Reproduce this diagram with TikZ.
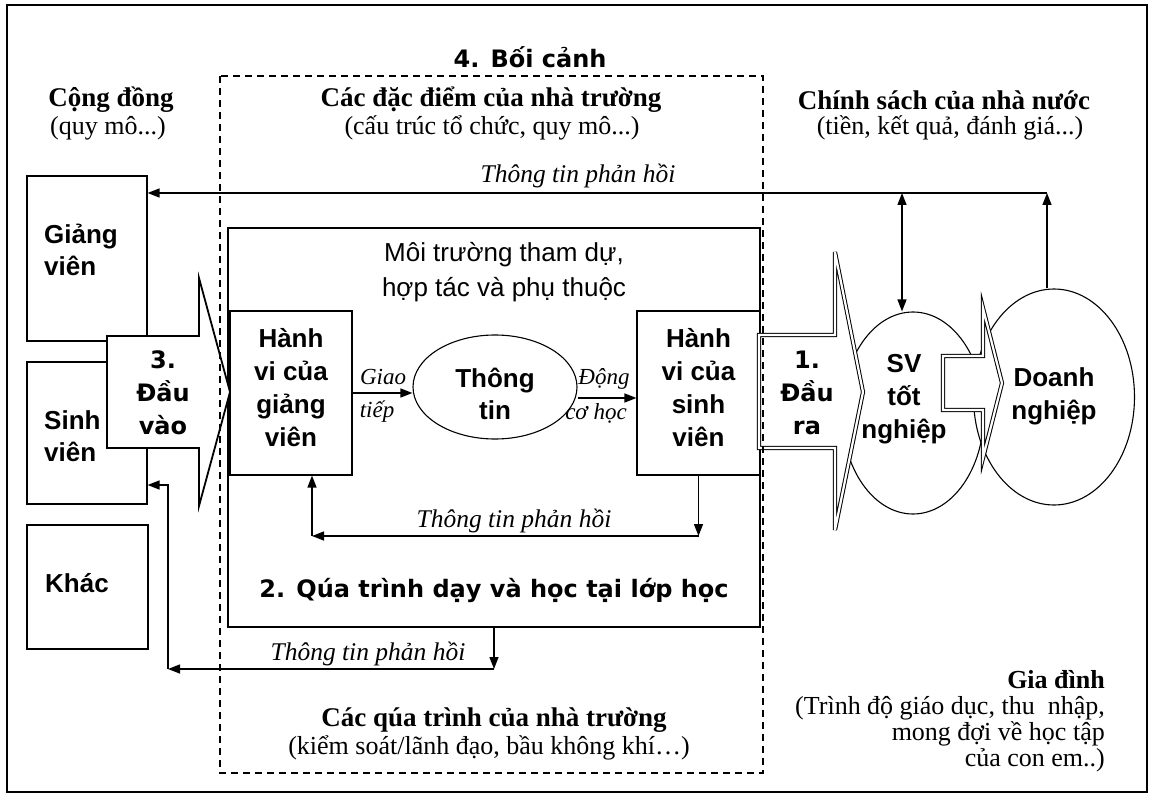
\documentclass[tikz,border=0pt]{standalone}
\usepackage{fontspec}
\setmainfont{Liberation Serif}
\setsansfont{Liberation Sans}
\newfontfamily\headfont{DejaVu Sans}
\usetikzlibrary{arrows.meta,shapes.geometric,calc}
\tikzset{
  tri/.tip={Triangle[length=12pt,width=9pt]},
  frame/.style={draw,line width=1.3pt},
  dashbox/.style={draw,line width=1.8pt,dash pattern=on 7pt off 5pt},
  boxs/.style={draw,line width=1.1pt,inner sep=0pt},
  ell/.style={draw,ellipse,line width=1.1pt,inner sep=0pt},
  arr/.style={line width=1.4pt,-tri},
  arrb/.style={line width=1.4pt,tri-tri},
  bigarrow/.style={draw,line width=1.8pt,fill=white,line join=miter},
  dblarrow/.style={draw,double,double distance=2.2pt,line width=1pt,fill=white,line join=miter},
  tb/.style={font=\fontsize{27}{25}\selectfont\bfseries,inner sep=0pt},
  tr/.style={font=\fontsize{26}{26}\selectfont,inner sep=0pt},
  ti/.style={font=\fontsize{25.5}{25}\selectfont\itshape,inner sep=0pt},
  tis/.style={font=\fontsize{23}{25}\selectfont\itshape,inner sep=0pt},
  sb/.style={font=\fontsize{26}{33}\selectfont\sffamily\bfseries,inner sep=0pt,align=center},
  sbl/.style={font=\fontsize{26}{32}\selectfont\sffamily\bfseries,inner sep=0pt,align=left},
  sr/.style={font=\fontsize{26}{35}\selectfont\sffamily,inner sep=0pt,align=center},
  hd/.style={font=\fontsize{24}{33}\selectfont\headfont\bfseries,inner sep=0pt,align=center}
}
\begin{document}
\begin{tikzpicture}[x=1pt,y=-1pt]
\useasboundingbox (0,0) rectangle (1152,797);
\fill[white] (0,0) rectangle (1152,797);
\draw[frame] (7,5) rectangle (1147,792);

% left boxes
\node[boxs,minimum width=120pt,minimum height=165pt] (gv) at (87,258.5) {};
\node[boxs,minimum width=120pt,minimum height=142pt] (sv) at (87,433) {};
\node[boxs,minimum width=121pt,minimum height=124pt] (khac) at (87.5,587) {};
\node[sbl,anchor=west] (gvt) at (44,250) {Giảng\\viên};
\node[sbl,anchor=west] (svlt) at (44,436) {Sinh\\viên};
\node[sbl,anchor=west] (khact) at (45,583) {Khác};

% inner classroom box
\node[boxs,minimum width=532pt,minimum height=399pt] (inner) at (494,427.5) {};
\node[boxs,minimum width=122pt,minimum height=164pt] (hgv) at (291,393) {};
\node[boxs,minimum width=123pt,minimum height=164pt] (hsv) at (698.5,393) {};
\node[ell,minimum width=164pt,minimum height=104pt] (tt) at (495,387) {};
\node[sb] (hgvt) at (291,388) {Hành\\vi của\\giảng\\viên};
\node[sb] (hsvt) at (698.5,388) {Hành\\vi của\\sinh\\viên};
\node[sb,font=\fontsize{26}{32}\selectfont\sffamily\bfseries] (ttt) at (495,394) {Thông\\tin};
\node[sr] (moi) at (504,272) {Môi trường tham dự,\\hợp tác và phụ thuộc};
\node[hd] (qt) at (494,590) {2. Qúa trình dạy và học tại lớp học};

% right ellipses
\node[ell,minimum width=142pt,minimum height=202pt] (svtn) at (913,413) {};
\node[ell,minimum width=161pt,minimum height=216pt] (dn) at (1054,397) {};
\draw[dblarrow] (943,356) -- (983,356) -- (983,308) -- (1002,383) -- (983,458) -- (983,410) -- (943,410) -- cycle;
\node[sb] (svt) at (904,399) {SV\\tốt\\nghiệp};
\node[sb] (dnt) at (1054,396) {Doanh\\nghiệp};

% input and output arrows
\draw[bigarrow] (107,336) -- (199,336) -- (199,278) -- (230,392) -- (199,506) -- (199,448) -- (107,448) -- cycle;
\node[hd] (dvao) at (163,393) {3.\\Đầu\\vào};
\draw[dblarrow] (759,335) -- (835,335) -- (835,252) -- (863,392) -- (835,530) -- (835,448) -- (759,448) -- cycle;
\node[hd] (dra) at (807,393) {1.\\Đầu\\ra};

% dashed context box
\draw[dashbox] (220,76) rectangle (763,773);
\node[hd] (bc) at (530,57) {4. Bối cảnh};

% context texts
\node[tb] (cd1) at (111,100) {Cộng đồng};
\node[tr] (cd2) at (108,128) {(quy mô...)};
\node[tb] (dd1) at (491,100) {Các đặc điểm của nhà trường};
\node[tr] (dd2) at (492,128) {(cấu trúc tổ chức, quy mô...)};
\node[tb] (cs1) at (944,100) {Chính sách của nhà nước};
\node[tr] (cs2) at (950,128) {(tiền, kết quả, đánh giá...)};
\node[tb] (qt1) at (494,720) {Các qúa trình của nhà trường};
\node[tr] (qt2) at (489,748) {(kiểm soát/lãnh đạo, bầu không khí…)};
\node[tr,align=right,anchor=east] (gd) at (1105,721) {\bfseries Gia đình\\(Trình độ giáo dục, thu\ \ nhập,\\mong đợi về học tập\\của con em..)};

% communication arrows
\draw[arr] (hgv.east) -- (tt.west |- hgv.east);
\coordinate (tte) at ($(tt.east)+(0,11)$);
\draw[arr] (tte) -- (tte -| hsv.west);
\node[tis] (giao) at (383,377) {Giao};
\node[tis] (tiep) at (377,412) {tiếp};
\node[tis] (dong) at (604,379) {Động};
\node[tis] (cohoc) at (596,413) {cơ học};

% inner feedback
\coordinate (fi1) at (hsv.south |- 0,536);
\coordinate (fi2) at (312,536);
\draw[arr] (hsv.south) -- (fi1);
\draw[arr] (fi1) -- (fi2);
\draw[arr] (fi2) -- (fi2 |- hgv.south);
\node[ti] (fbi) at (514,521) {Thông tin phản hồi};

% bottom feedback
\coordinate (fb1) at (inner.south |- 0,669);
\coordinate (fb2) at (168,669);
\coordinate (fb3) at (168,485);
\draw[arr] (inner.south) -- (fb1);
\draw[arr] (fb1) -- (fb2);
\draw[arr] (fb2) -- (fb3) -- (fb3 -| sv.east);
\node[ti] (fbb) at (368,654) {Thông tin phản hồi};

% top feedback
\coordinate (tr) at (1047,193);
\coordinate (dv) at (902,193);
\draw[arr] (tr |- dn.north) -- (tr);
\draw[arr] (tr) -- (tr -| gv.east);
\draw[arrb] (dv) -- (dv |- svtn.north);
\node[ti] (fbt) at (578,176) {Thông tin phản hồi};
\end{tikzpicture}
\end{document}
